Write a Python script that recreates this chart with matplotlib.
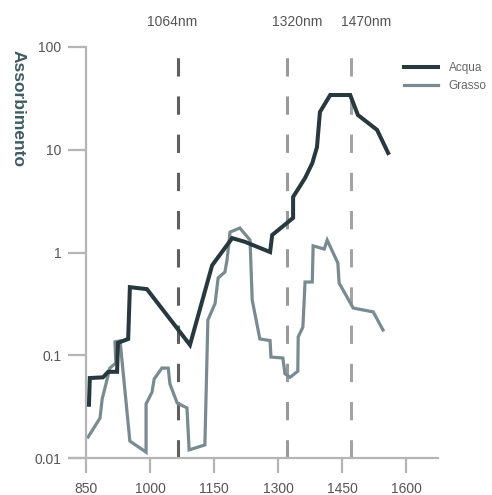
import matplotlib
matplotlib.use("Agg")
import matplotlib.pyplot as plt
from matplotlib.ticker import NullLocator

plt.rcParams['font.family'] = ['Liberation Sans', 'DejaVu Sans']

# Acqua (water) absorption curve
acqua_nm = [856, 858, 889, 901, 922, 924, 948, 952, 992, 1093, 1145, 1192,
            1222, 1281, 1286, 1335, 1335, 1363, 1380, 1391, 1398, 1422, 1469,
            1487, 1532, 1558]
acqua_abs = [0.033, 0.060, 0.061, 0.069, 0.069, 0.132, 0.144, 0.46, 0.44,
             0.126, 0.75, 1.38, 1.27, 1.01, 1.48, 2.17, 3.47, 5.3, 7.4, 10.6,
             23.3, 34.1, 34.1, 21.8, 15.6, 9.3]

# Grasso (fat) absorption curve
grasso_nm = [854, 882, 887, 898, 905, 919, 917, 929, 952, 990, 990, 1004,
             1009, 1027, 1042, 1046, 1063, 1086, 1091, 1128, 1135, 1152, 1159,
             1175, 1180, 1187, 1210, 1234, 1239, 1257, 1281, 1283, 1311, 1316,
             1328, 1346, 1347, 1358, 1363, 1380, 1382, 1408, 1415, 1429, 1440,
             1443, 1476, 1523, 1546]
grasso_abs = [0.016, 0.0245, 0.0375, 0.057, 0.075, 0.084, 0.135, 0.138,
              0.0146, 0.0114, 0.0336, 0.0438, 0.0587, 0.075, 0.075, 0.0525,
              0.0343, 0.0307, 0.012, 0.0134, 0.22, 0.32, 0.565, 0.646, 0.846,
              1.58, 1.73, 1.32, 0.345, 0.144, 0.139, 0.096, 0.094, 0.066,
              0.061, 0.070, 0.151, 0.188, 0.516, 0.516, 1.16, 1.08, 1.32, 0.99,
              0.79, 0.505, 0.288, 0.264, 0.176]

# laser wavelengths marked with dashed lines
laser_nm = [1064, 1320, 1470]
laser_labels = ['1064nm', '1320nm', '1470nm']
laser_label_x = [1051, 1344, 1506]
laser_colors = ['#5f5f5f', '#9a9a9a', '#a3a3a3']

xticks = [850, 1000, 1150, 1300, 1450, 1600]
yticks = [0.01, 0.1, 1, 10, 100]
ytick_labels = ['0.01', '0.1', '1', '10', '100']

fig = plt.figure(figsize=(4.92, 4.95), dpi=100)
ax = fig.add_axes([70 / 492, 37 / 495, 368 / 492, 411 / 495])

for x, c in zip(laser_nm, laser_colors):
    ax.axvline(x, color=c, lw=2.2, linestyle=(0, (6, 6.5)), zorder=1)
for lx, lab in zip(laser_label_x, laser_labels):
    ax.text(lx, 1.061, lab, transform=ax.get_xaxis_transform(),
            ha='center', va='center', fontsize=10, color='#555555')

ax.plot(acqua_nm, acqua_abs, color='#27393e', lw=2.9, label='Acqua',
        solid_joinstyle='miter', zorder=3)
ax.plot(grasso_nm, grasso_abs, color='#788b90', lw=2.3, label='Grasso',
        solid_joinstyle='miter', zorder=2)

ax.set_yscale('log')
ax.set_xlim(811.5, 1675)
ax.set_ylim(0.01, 100)
ax.set_xticks(xticks)
ax.set_xticklabels([str(t) for t in xticks])
ax.set_yticks(yticks)
ax.set_yticklabels(ytick_labels)
ax.yaxis.set_minor_locator(NullLocator())

for s in ['top', 'right']:
    ax.spines[s].set_visible(False)
ax.spines['left'].set_position(('data', 850))
for s in ['left', 'bottom']:
    ax.spines[s].set_color('#b5b5b5')
    ax.spines[s].set_linewidth(1.6)

ax.tick_params(axis='y', direction='out', length=13, width=1.6,
               color='#b5b5b5', pad=5, labelsize=10, labelcolor='#555555')
ax.tick_params(axis='x', direction='out', length=11, width=1.6,
               color='#b5b5b5', pad=6, labelsize=10, labelcolor='#555555')

fig.text(0.036, 1 - 109 / 495, 'Assorbimento', rotation=-90, ha='center',
         va='center', fontsize=12.5, fontweight='bold', color='#3e5c62')

leg = fig.legend(loc='upper left', bbox_to_anchor=(404 / 492, 1 - 62 / 495),
                 frameon=False, fontsize=8.5, handlelength=2.9,
                 handletextpad=0.9, labelspacing=0.55, borderpad=0,
                 borderaxespad=0)
for t in leg.get_texts():
    t.set_color('#666666')

fig.savefig('out.png', dpi=100)
